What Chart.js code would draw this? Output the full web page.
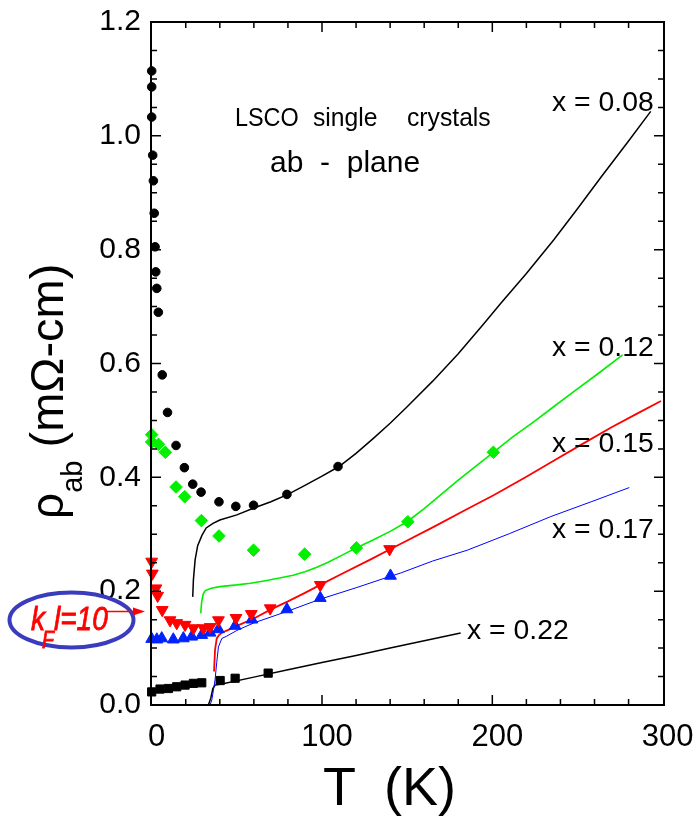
<!DOCTYPE html>
<html>
<head>
<meta charset="utf-8">
<script src="https://cdn.jsdelivr.net/npm/chart.js@4.4.1/dist/chart.umd.min.js"></script>
<style>
    html, body { margin: 0; padding: 0; background: #fff; }
    #wrap { width: 698px; height: 816px; }
</style>
</head>
<body>
<div id="wrap"><canvas id="chart" width="698" height="816"></canvas></div>
<script>
// 刻度
const xTickLabels = [0, 100, 200, 300];
const yTickLabels = [0.0, 0.2, 0.4, 0.6, 0.8, 1.0, 1.2];

// x = 0.08 数据点
const pts008T = [0, 0, 0, 0.6, 1, 1.5, 2, 2.4, 3, 3.9, 6.2, 9.3, 14.3, 19.2, 24.1, 29, 39.5, 49.4, 59.8, 79.4, 109.4];
const pts008R = [1.114, 1.086, 1.033, 0.966, 0.921, 0.864, 0.805, 0.761, 0.732, 0.690, 0.58, 0.514, 0.456, 0.417, 0.388, 0.374, 0.357, 0.349, 0.351, 0.370, 0.419];
// x = 0.08 曲线
const line008T = [24.1, 24.5, 25.5, 27, 29.5, 32, 36, 40, 50, 60, 70, 80, 90, 100, 110, 120, 130, 140, 150, 165, 180, 195, 205, 220, 236, 250, 264, 280, 293];
const line008R = [0.19, 0.22, 0.255, 0.28, 0.298, 0.311, 0.319, 0.325, 0.334, 0.346, 0.357, 0.370, 0.386, 0.402, 0.419, 0.442, 0.468, 0.495, 0.524, 0.569, 0.617, 0.670, 0.706, 0.758, 0.817, 0.872, 0.928, 0.991, 1.043];

// x = 0.12
const pts012T = [0, 0, 4, 8, 14.3, 19.4, 29.2, 39.5, 59.8, 89.8, 120.2, 150.4, 200.6];
const pts012R = [0.475, 0.462, 0.458, 0.444, 0.383, 0.366, 0.324, 0.297, 0.272, 0.265, 0.276, 0.322, 0.444];
const line012T = [28.8, 29.3, 30.2, 31.5, 35, 40, 50, 58, 66, 75, 83, 90, 97, 103, 111, 120, 130, 140, 150, 160, 170, 180, 190, 200.6, 212, 224.5, 236, 248, 262, 276.5];
const line012R = [0.161, 0.180, 0.195, 0.201, 0.205, 0.208, 0.211, 0.214, 0.218, 0.223, 0.228, 0.234, 0.242, 0.250, 0.262, 0.276, 0.290, 0.305, 0.322, 0.345, 0.370, 0.395, 0.419, 0.444, 0.471, 0.498, 0.524, 0.551, 0.582, 0.615];

// x = 0.15
const pts015T = [0, 0.4, 2.5, 3.5, 6.2, 10.8, 14.7, 19.6, 24.5, 30.4, 34.3, 39.2, 49.5, 58.5, 69.6, 99, 139.7];
const pts015R = [0.252, 0.231, 0.205, 0.192, 0.167, 0.149, 0.144, 0.141, 0.135, 0.135, 0.137, 0.149, 0.153, 0.160, 0.170, 0.211, 0.274];
const line015T = [36.6, 37.2, 38.2, 39.5, 41.2, 45, 50, 60, 70, 80, 90, 99, 110, 128, 146, 165, 185, 201, 220, 236, 252, 270, 285, 299];
const line015R = [0.059, 0.097, 0.117, 0.123, 0.127, 0.132, 0.139, 0.152, 0.168, 0.182, 0.197, 0.211, 0.228, 0.255, 0.283, 0.312, 0.344, 0.369, 0.401, 0.429, 0.457, 0.488, 0.512, 0.534];

// x = 0.17
const pts017T = [0, 3, 5.9, 12.7, 18.6, 23.5, 29.4, 34.3, 39.2, 49, 58.8, 79.4, 99, 140.2];
const pts017R = [0.116, 0.115, 0.117, 0.115, 0.117, 0.120, 0.123, 0.127, 0.133, 0.139, 0.150, 0.168, 0.188, 0.227];
const line017T = [13, 20, 30, 34.3, 35.3, 36.2, 37.2, 38.2, 39.2, 41.2, 44.1, 50, 59.8, 80, 99, 120, 140, 146.3, 165, 185.3, 210, 234.3, 258, 280.4];
const line017R = [0, 0, 0, 0, 0.009, 0.025, 0.044, 0.075, 0.102, 0.117, 0.121, 0.131, 0.144, 0.165, 0.186, 0.206, 0.226, 0.232, 0.253, 0.272, 0.301, 0.331, 0.357, 0.382];

// x = 0.22
const pts022T = [0, 4.9, 9.8, 14.7, 19.6, 24.5, 29.4, 40.2, 49, 68.4];
const pts022R = [0.023, 0.028, 0.029, 0.032, 0.035, 0.038, 0.039, 0.043, 0.047, 0.056];
const line022T = [32, 33.3, 34.7, 35.9, 37.2, 41.2, 60, 80, 100, 120, 140, 160, 181.4];
const line022R = [0, 0, 0.012, 0.029, 0.035, 0.037, 0.049, 0.062, 0.0745, 0.087, 0.100, 0.113, 0.1265];

const FONT = '"Liberation Sans", Arial, Helvetica, sans-serif';

function xy(ts, rs) {
    return ts.map((t, i) => ({ x: t, y: rs[i] }));
}

function pointSet(ts, rs, color, style, radius, rotation) {
    return {
        data: xy(ts, rs),
        showLine: false,
        pointStyle: style,
        pointRadius: radius,
        pointRotation: rotation || 0,
        pointBackgroundColor: color,
        pointBorderColor: color,
        pointBorderWidth: 1,
        clip: false
    };
}

function lineSet(ts, rs, color, width) {
    return {
        data: xy(ts, rs),
        showLine: true,
        borderColor: color,
        borderWidth: width,
        pointRadius: 0,
        tension: 0,
        fill: false
    };
}

// 文字
function txt(ctx, s, x, y, size, opt) {
    opt = opt || {};
    ctx.save();
    ctx.font = (opt.style || '') + ' ' + size + 'px ' + FONT;
    ctx.fillStyle = opt.color || '#000';
    ctx.textBaseline = 'alphabetic';
    ctx.textAlign = 'left';
    ctx.translate(x, y);
    ctx.scale(opt.sx || 1, 1);
    ctx.fillText(s, 0, 0);
    if (opt.stroke) {
        ctx.strokeStyle = opt.color || '#000';
        ctx.lineWidth = opt.stroke;
        ctx.strokeText(s, 0, 0);
    }
    ctx.restore();
}

// 边框、刻度和标注
const framePlugin = {
    id: 'frame',
    afterDraw(chart) {
        const ctx = chart.ctx;
        const a = chart.chartArea;
        const xs = chart.scales.x, ys = chart.scales.y;
        ctx.save();
        ctx.strokeStyle = '#000';
        ctx.lineWidth = 2;
        ctx.strokeRect(a.left, a.top, a.right - a.left, a.bottom - a.top);

        ctx.lineWidth = 1.5;
        ctx.beginPath();
        for (let v = 20; v < 300; v += 20) {
            const px = xs.getPixelForValue(v);
            const len = v % 100 === 0 ? 10 : 6;
            ctx.moveTo(px, a.bottom); ctx.lineTo(px, a.bottom - len);
            ctx.moveTo(px, a.top); ctx.lineTo(px, a.top + len);
        }
        for (let k = 1; k < 24; k++) {
            const py = ys.getPixelForValue(k * 0.05);
            const len = k % 4 === 0 ? 10 : 6;
            ctx.moveTo(a.left, py); ctx.lineTo(a.left + len, py);
            ctx.moveTo(a.right, py); ctx.lineTo(a.right - len, py);
        }
        ctx.stroke();
        ctx.restore();

        // 坐标轴标题
        txt(ctx, 'T', 323, 805, 54);
        txt(ctx, '(K)', 384, 805, 54);

        ctx.save();
        ctx.translate(63, 519);
        ctx.rotate(-Math.PI / 2);
        ctx.fillStyle = '#000';
        ctx.font = '46px ' + FONT;
        ctx.fillText('\u03C1', 0, 0);
        let w = ctx.measureText('\u03C1').width;
        ctx.font = '29px ' + FONT;
        ctx.fillText('ab', w, 19);
        w += ctx.measureText('ab').width;
        ctx.font = '47px ' + FONT;
        ctx.fillText(' (m\u03A9-cm)', w, 0);
        ctx.restore();

        // 标注
        txt(ctx, 'LSCO', 235, 126, 26, { sx: 0.9 });
        txt(ctx, 'single', 313, 126, 26, { sx: 0.95 });
        txt(ctx, 'crystals', 407, 126, 26, { sx: 0.95 });
        txt(ctx, 'ab  -  plane', 270, 172, 30);

        txt(ctx, 'x = 0.08', 552, 111, 27, { sx: 1.05 });
        txt(ctx, 'x = 0.12', 552, 356, 27, { sx: 1.05 });
        txt(ctx, 'x = 0.15', 552, 452, 27, { sx: 1.05 });
        txt(ctx, 'x = 0.17', 552, 538, 27, { sx: 1.05 });
        txt(ctx, 'x = 0.22', 467, 639, 27, { sx: 1.05 });

        // k_F l = 10
        ctx.save();
        ctx.strokeStyle = '#3b3bbd';
        ctx.lineWidth = 4;
        ctx.beginPath();
        ctx.ellipse(71.5, 620, 62, 27.5, 0, 0, Math.PI * 2);
        ctx.stroke();
        ctx.strokeStyle = '#ff0000';
        ctx.fillStyle = '#ff0000';
        ctx.lineWidth = 1.5;
        ctx.beginPath();
        ctx.moveTo(106, 611.5); ctx.lineTo(136, 611.5);
        ctx.stroke();
        ctx.beginPath();
        ctx.moveTo(145, 611.5); ctx.lineTo(133, 607.5); ctx.lineTo(133, 615.5);
        ctx.closePath();
        ctx.fill();
        ctx.restore();

        const red = { style: 'italic', color: '#ff0000', sx: 0.85, stroke: 0.8 };
        txt(ctx, 'k', 31, 630, 33, red);
        txt(ctx, 'F', 42, 648, 23, red);
        txt(ctx, 'l=10', 54, 630, 33, red);
    }
};

new Chart(document.getElementById('chart'), {
    type: 'scatter',
    data: {
        datasets: [
            pointSet(pts008T, pts008R, '#000000', 'circle', 4.3),
            pointSet(pts012T, pts012R, '#00f000', 'rectRot', 6.3),
            pointSet(pts015T, pts015R, '#ff0000', 'triangle', 6.8, 180),
            pointSet(pts017T, pts017R, '#0022ff', 'triangle', 6.8),
            pointSet(pts022T, pts022R, '#000000', 'rect', 5.8),
            lineSet(line008T, line008R, '#000000', 1.5),
            lineSet(line012T, line012R, '#00ee00', 1.6),
            lineSet(line015T, line015R, '#ff0000', 1.8),
            lineSet(line017T, line017R, '#0000ff', 1),
            lineSet(line022T, line022R, '#000000', 1.5)
        ]
    },
    options: {
        responsive: false,
        animation: false,
        devicePixelRatio: 1,
        layout: { padding: { top: 22, right: 34, left: 0, bottom: 0 } },
        plugins: { legend: { display: false }, tooltip: { enabled: false } },
        scales: {
            x: {
                type: 'linear',
                min: -0.4,
                max: 300.8,
                grid: { display: false, drawTicks: false },
                border: { display: false },
                afterBuildTicks: s => { s.ticks = xTickLabels.map(v => ({ value: v })); },
                afterFit: s => {
                    s.height = 111;
                    s.paddingLeft = 0;
                    s.paddingRight = 0;
                },
                ticks: {
                    color: '#000',
                    font: { size: 31, family: FONT },
                    padding: 14,
                    labelOffset: 5,
                    autoSkip: false,
                    maxRotation: 0,
                    callback: v => String(v)
                }
            },
            y: {
                type: 'linear',
                min: 0,
                max: 1.2,
                grid: { display: false, drawTicks: false },
                border: { display: false },
                afterBuildTicks: s => { s.ticks = yTickLabels.map(v => ({ value: v })); },
                afterFit: s => {
                    s.width = 151;
                    s.paddingTop = 0;
                    s.paddingBottom = 0;
                },
                ticks: {
                    color: '#000',
                    font: { size: 30, family: FONT },
                    padding: 10,
                    callback: v => v.toFixed(1)
                }
            }
        }
    },
    plugins: [framePlugin]
});
</script>
</body>
</html>
